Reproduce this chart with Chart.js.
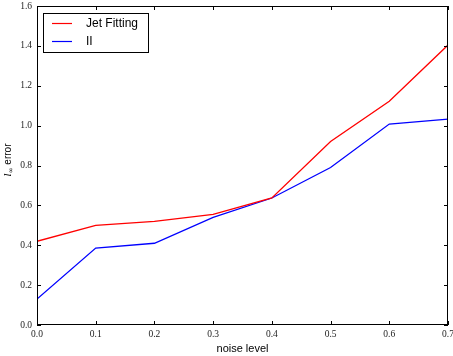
<!DOCTYPE html>
<html><head><meta charset="utf-8">
<script src="https://cdn.jsdelivr.net/npm/chart.js@4"></script>
<style>html,body{margin:0;padding:0;background:#fff}#w{width:453px;height:356px}</style>
</head><body><div id="w"><canvas id="c" width="453" height="356"></canvas></div>
<script>
const noiseLevels = [0.0, 0.1, 0.2, 0.3, 0.4, 0.5, 0.6, 0.7];
const jetFitting = [0.42, 0.50, 0.52, 0.555, 0.637, 0.92, 1.122, 1.404];
const seriesII = [0.13, 0.386, 0.41, 0.54, 0.637, 0.79, 1.008, 1.033];
const xTicks = [0.0, 0.1, 0.2, 0.3, 0.4, 0.5, 0.6, 0.7];
const yTicks = [0.0, 0.2, 0.4, 0.6, 0.8, 1.0, 1.2, 1.4, 1.6];
const seriesNames = ['Jet Fitting', 'II'];

const tickFont = {family: 'Liberation Serif', size: 9.5};

const frameTicks = {
  id: 'frameTicks',
  afterDatasetsDraw(chart) {
    const {ctx, chartArea: a, scales: {x, y}} = chart;
    ctx.save();
    ctx.strokeStyle = '#000'; ctx.lineWidth = 1;
    ctx.strokeRect(a.left + 0.5, a.top + 0.5, a.right - a.left - 1, a.bottom - a.top - 1);
    ctx.beginPath();
    xTicks.forEach(v => {
      const px = Math.round(x.getPixelForValue(v)) + 0.5;
      ctx.moveTo(px, a.bottom); ctx.lineTo(px, a.bottom - 4);
      ctx.moveTo(px, a.top); ctx.lineTo(px, a.top + 4);
    });
    yTicks.forEach(v => {
      const py = Math.round(y.getPixelForValue(v)) + 0.5;
      ctx.moveTo(a.left, py); ctx.lineTo(a.left + 4, py);
      ctx.moveTo(a.right, py); ctx.lineTo(a.right - 4, py);
    });
    ctx.stroke();
    // legend
    const lx = a.left + 6, ly = a.top + 7, lw = 105, lh = 39;
    ctx.fillStyle = '#fff';
    ctx.fillRect(lx, ly, lw, lh);
    ctx.strokeStyle = '#000';
    ctx.strokeRect(lx + 0.5, ly + 0.5, lw, lh);
    ctx.font = '12px "Liberation Sans", Arial, sans-serif';
    ctx.textBaseline = 'middle';
    chart.data.datasets.forEach((ds, i) => {
      const yy = ly + 10.5 + i * 18;
      ctx.strokeStyle = ds.borderColor; ctx.lineWidth = 1.2;
      ctx.beginPath(); ctx.moveTo(lx + 9, yy); ctx.lineTo(lx + 29, yy); ctx.stroke();
      ctx.fillStyle = '#000';
      ctx.fillText(ds.label, lx + 43, yy + 0.5);
    });
    // y title
    ctx.save();
    ctx.translate(11, 160);
    ctx.rotate(-Math.PI / 2);
    ctx.fillStyle = '#000';
    ctx.textBaseline = 'alphabetic';
    ctx.textAlign = 'left';
    const parts = [['italic 10px "DejaVu Serif"', 'l', 0], ['7px "DejaVu Sans"', '\u221e', 2], ['10px "Liberation Sans", Arial', ' error', 0]];
    let total = 0;
    parts.forEach(p => { ctx.font = p[0]; total += ctx.measureText(p[1]).width; });
    let cx = -total / 2;
    parts.forEach(p => { ctx.font = p[0]; ctx.fillText(p[1], cx, p[2]); cx += ctx.measureText(p[1]).width; });
    ctx.restore();
    ctx.restore();
  }
};

new Chart(document.getElementById('c'), {
  type: 'line',
  data: {
    datasets: [
      {label: seriesNames[0], data: noiseLevels.map((v, i) => ({x: v, y: jetFitting[i]})), borderColor: '#ff0000', borderWidth: 1.3, pointRadius: 0, tension: 0, fill: false},
      {label: seriesNames[1], data: noiseLevels.map((v, i) => ({x: v, y: seriesII[i]})), borderColor: '#0000ff', borderWidth: 1.3, pointRadius: 0, tension: 0, fill: false}
    ]
  },
  options: {
    responsive: false,
    animation: false,
    layout: {padding: {top: 6, right: 5, left: 0, bottom: 0}},
    plugins: {legend: {display: false}, tooltip: {enabled: false}},
    scales: {
      x: {
        type: 'linear', min: 0, max: 0.7,
        afterBuildTicks: s => { s.ticks = xTicks.map(v => ({value: v})); },
        afterFit: s => { s.height = 31; s.paddingLeft = 0; s.paddingRight = 0; },
        grid: {display: false, drawTicks: false},
        border: {display: false},
        ticks: {font: tickFont, color: '#222', padding: 4, maxRotation: 0, autoSkip: false, callback: v => v.toFixed(1)},
        title: {display: true, text: 'noise level', font: {family: 'Liberation Sans', size: 11}, color: '#000', padding: {top: -3, bottom: 0}}
      },
      y: {
        type: 'linear', min: 0, max: 1.6,
        afterBuildTicks: s => { s.ticks = yTicks.map(v => ({value: v})); },
        afterFit: s => { s.width = 37; s.paddingTop = 0; s.paddingBottom = 0; },
        grid: {display: false, drawTicks: false},
        border: {display: false},
        ticks: {font: tickFont, color: '#222', padding: 5, autoSkip: false, callback: v => v.toFixed(1)}
      }
    }
  },
  plugins: [frameTicks]
});
</script>
</body></html>
